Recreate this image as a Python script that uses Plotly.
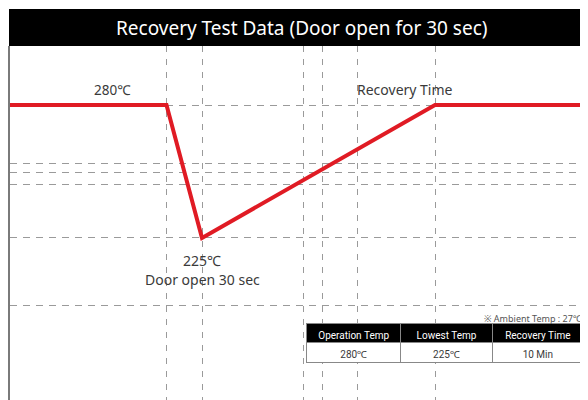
import plotly.graph_objects as go

# ---- data ----
time_pts = [0, 156.5, 192, 425, 578]          # relative time units along chart
temp_pts = [280, 280, 225, 280, 280]          # oven temperature (℃)
v_grid = [156.5, 192, 293, 312, 347, 425]     # vertical reference lines
h_grid = [197, 225, 247, 252, 256, 280]       # horizontal reference lines

table_header = ["Operation Temp", "Lowest Temp", "Recovery Time"]
table_values = ["280℃", "225℃", "10 Min"]

title_text = "Recovery Test Data (Door open for 30 sec)"
ambient_text = "※ Ambient Temp : 27℃"

FONT = "Noto Sans, DejaVu Sans, sans-serif"
TFONT = "Roboto, Noto Sans, DejaVu Sans, sans-serif"
RED = "#e01b24"
TXT = "#3a3a3a"

# page body has an 8px margin: figure sits at (8, 8) inside the window.
# Plot area in window pixels: x 10..588, y 46..400
PX0, PX1, PY0, PY1 = 10, 588, 46, 400


def px(x):
    return (x - PX0) / (PX1 - PX0)


def py(y):
    return (PY1 - y) / (PY1 - PY0)


fig = go.Figure()

fig.add_trace(go.Scatter(
    x=time_pts, y=temp_pts, mode="lines",
    line=dict(color=RED, width=4), hoverinfo="skip", showlegend=False,
    cliponaxis=False,
))

fig.add_trace(go.Table(
    domain=dict(x=[px(306.5), px(583.5)], y=[py(375), py(323.5)]),
    columnwidth=[94, 91, 91],
    header=dict(values=table_header, fill_color="#000000",
                line=dict(color="#888888", width=1),
                font=dict(family=TFONT, size=10, color="#ffffff"),
                align="center", height=19),
    cells=dict(values=[[v] for v in table_values], fill_color="#ffffff",
               line=dict(color="#888888", width=1),
               font=dict(family=TFONT, size=10, color=TXT),
               align="center", height=20),
))

fig.update_layout(
    width=580, height=392,
    margin=dict(l=2, r=0, t=38, b=0),
    paper_bgcolor="#ffffff", plot_bgcolor="#ffffff",
    showlegend=False,
    xaxis=dict(range=[0, 578], tickvals=v_grid, showticklabels=False,
               showgrid=True, gridcolor="#9a9a9a", gridwidth=1.3,
               griddash="6px,7px", zeroline=False, showline=False,
               fixedrange=True),
    yaxis=dict(range=[158, 304.4], tickvals=h_grid, showticklabels=False,
               showgrid=True, gridcolor="#9a9a9a", gridwidth=1.3,
               griddash="7px,6px", zeroline=False,
               showline=True, linecolor="#7a7a7a", linewidth=2,
               fixedrange=True),
)

# title bar
fig.add_shape(type="rect", xref="paper", yref="paper",
              x0=px(9), x1=1.0, y0=py(46), y1=py(9),
              fillcolor="#000000", line=dict(width=0), layer="above")
fig.add_annotation(xref="paper", yref="paper", x=px(302), y=py(28),
                   text=title_text, showarrow=False,
                   font=dict(family=FONT, size=19, color="#ffffff"),
                   xanchor="center", yanchor="middle")

# point labels
fig.add_annotation(x=102, y=temp_pts[0], text="280℃", showarrow=False,
                   yanchor="bottom", yshift=4,
                   font=dict(family=FONT, size=13.5, color=TXT))
fig.add_annotation(x=395, y=temp_pts[3], text="Recovery Time", showarrow=False,
                   yanchor="bottom", yshift=4,
                   font=dict(family=FONT, size=14, color=TXT))
fig.add_annotation(x=time_pts[2], y=temp_pts[2], text="225℃", showarrow=False,
                   yanchor="top", yshift=-11,
                   font=dict(family=FONT, size=14, color=TXT))
fig.add_annotation(x=time_pts[2], y=temp_pts[2], text="Door open 30 sec",
                   showarrow=False, yanchor="top", yshift=-30,
                   font=dict(family=FONT, size=14, color=TXT))

fig.add_annotation(xref="paper", yref="paper", x=px(584), y=py(318),
                   text=ambient_text, showarrow=False,
                   xanchor="right", yanchor="middle",
                   font=dict(family=FONT, size=9, color="#555555"))

fig.write_html("out.html")
